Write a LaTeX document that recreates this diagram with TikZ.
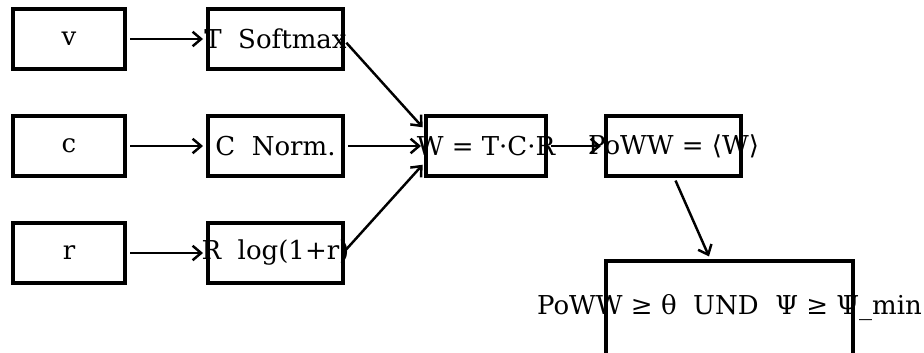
\documentclass[tikz,border=0pt]{standalone}
\usepackage{fontspec}
\setmainfont{DejaVu Serif}
\newfontfamily\brfont{DejaVu Sans}
\usetikzlibrary{arrows.meta,positioning}

\begin{document}
\begin{tikzpicture}[
  font=\fontsize{14.8}{17}\selectfont,
  >={Straight Barb[length=1.7mm,width=2.9mm]},
  box/.style={draw, line width=1.9pt, minimum height=1.2cm, inner sep=0pt, outer sep=0pt},
  flow/.style={->, line width=1.4pt, shorten <=0.1cm, shorten >=0.1cm}
]
\useasboundingbox (0,0) rectangle (18.48,-7.04);
% Left column: raw inputs
\node[box, minimum width=2.24cm] (v) at (1.38,-0.78) {v};
\node[box, minimum width=2.24cm, below=0.94cm of v] (c) {c};
\node[box, minimum width=2.24cm, below=0.94cm of c] (r) {r};

% Second column: transformed factors
\node[box, minimum width=2.7cm, right=1.66cm of v] (T) {\makebox[0pt]{T\ \ Softmax}};
\node[box, minimum width=2.7cm, right=1.66cm of c] (C) {\makebox[0pt]{C\ \ Norm.}};
\node[box, minimum width=2.7cm, right=1.66cm of r] (R) {\makebox[0pt]{R\ \ log(1+r)}};

% Product and mean
\node[box, minimum width=2.4cm, right=1.66cm of C] (W) {\makebox[0pt]{W = T·C·R}};
\node[box, minimum width=2.7cm, right=1.2cm of W] (poww)
  {\makebox[0pt]{PoWW = {\brfont⟨}W{\brfont⟩}}};

% Bottom: threshold check (runs past the lower edge)
\node[box, minimum width=4.94cm, minimum height=2cm,
  below right=1.7cm and 0cm of poww.south west] (check) {};
\node at ([yshift=0.06cm]check.center) (checktext)
  {\makebox[0pt]{PoWW ≥ θ\ \ UND\ \ Ψ ≥ Ψ\_min}};

\draw[flow] (v) -- (T);
\draw[flow] (c) -- (C);
\draw[flow] (r) -- (R);
\draw[flow] (T.east) -- ([yshift=0.3cm]W.west);
\draw[flow] (C) -- (W);
\draw[flow] (R.east) -- ([yshift=-0.3cm]W.west);
\draw[flow] (W) -- (poww);
\draw[flow] (poww.south) -- ([xshift=-0.37cm]check.north);
\end{tikzpicture}
\end{document}
